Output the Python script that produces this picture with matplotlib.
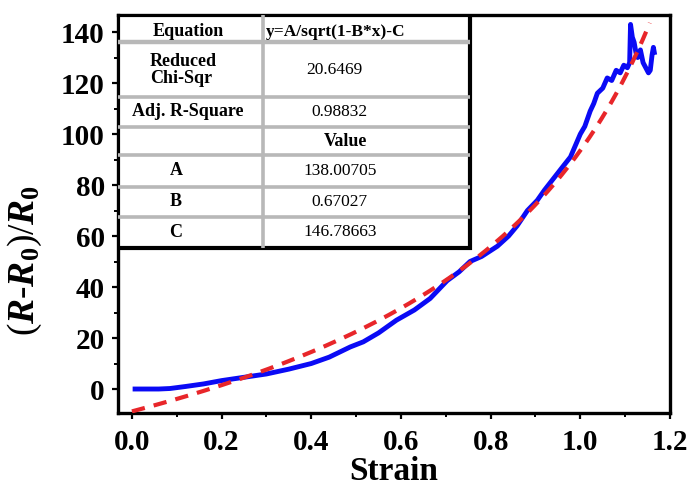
import numpy as np
import matplotlib
matplotlib.use("Agg")
import matplotlib.pyplot as plt
from matplotlib.ticker import MultipleLocator

plt.rcParams['font.family'] = 'Liberation Serif'
plt.rcParams['mathtext.fontset'] = 'custom'
plt.rcParams['mathtext.rm'] = 'Liberation Serif:bold'
plt.rcParams['mathtext.it'] = 'Liberation Serif:bold:italic'
plt.rcParams['mathtext.bf'] = 'Liberation Serif:bold'

# Measured response (strain vs relative resistance change)
strain = [0.007, 0.03, 0.06, 0.085, 0.12, 0.16, 0.20, 0.25, 0.30, 0.35, 0.40,
          0.44, 0.487, 0.516, 0.55, 0.59, 0.63, 0.665, 0.703, 0.73, 0.754,
          0.78, 0.815, 0.84, 0.859, 0.882, 0.904, 0.92, 0.94, 0.96, 0.978,
          1.0, 1.01, 1.022, 1.03, 1.038, 1.05, 1.06, 1.07, 1.08, 1.089,
          1.097, 1.105, 1.110, 1.112, 1.116, 1.120, 1.124, 1.128, 1.134,
          1.140, 1.146, 1.152, 1.156, 1.160, 1.163, 1.165]
response = [0, 0, 0, 0.2, 1.0, 2.0, 3.3, 4.6, 5.9, 7.8, 10.0,
            12.5, 16.5, 18.5, 22, 27, 31, 35.5, 42.5, 46, 50,
            52, 56, 60, 64, 70, 74, 78, 82.5, 87, 91,
            100, 103, 109, 112, 116, 118, 122, 121, 125, 124,
            127, 126, 128, 143, 138, 136, 132, 130, 133,
            128, 126, 124, 125, 131, 134, 132]

# Fit parameters: y = A/sqrt(1-B*x) - C
A = 138.00705
B = 0.67027
C = 146.78663
chi_sqr = "20.6469"
adj_r2 = "0.98832"
fit_x = np.linspace(0.0, 1.155, 300)
fit_y = A / np.sqrt(1 - B * fit_x) - C

x_ticks = [0.0, 0.2, 0.4, 0.6, 0.8, 1.0, 1.2]
y_ticks = [0, 20, 40, 60, 80, 100, 120, 140]

fig = plt.figure(figsize=(6.91, 4.91), dpi=100)
ax = fig.add_axes([0.1708, 0.1589, 0.7988, 0.8106])

ax.plot(strain, response, color='#0a0af5', lw=3.5, solid_joinstyle='round', zorder=3)
ax.plot(fit_x, fit_y, color='#e8262a', lw=3.0, dashes=(3.2, 2.2), zorder=4)

ax.set_xlim(-0.031, 1.2)
ax.set_ylim(-9.4, 146.7)
ax.set_xticks(x_ticks)
ax.set_xticklabels([f"{v:.1f}" for v in x_ticks])
ax.set_yticks(y_ticks)
ax.xaxis.set_minor_locator(MultipleLocator(0.1))
ax.yaxis.set_minor_locator(MultipleLocator(10))
ax.tick_params(which='major', direction='out', length=4.5, width=1.6,
               labelsize=21)
ax.tick_params(axis='x', which='major', pad=7)
ax.tick_params(axis='y', which='major', pad=5)
ax.tick_params(which='minor', direction='out', length=3, width=1.4)
for lbl in ax.get_xticklabels() + ax.get_yticklabels():
    lbl.set_fontweight('bold')
for s in ax.spines.values():
    s.set_linewidth(2.4)

ax.set_xlabel('Strain', fontsize=24, fontweight='bold', labelpad=0)
ax.set_ylabel(r'($R$-$R_0$)/$R_0$', fontsize=27)
ax.yaxis.set_label_coords(-0.135, 0.384)

# Fit summary table
tl, tr, tm = 0.0, 0.638, 0.2627
rows = [1.0, 0.932, 0.794, 0.7186, 0.648, 0.568, 0.4925, 0.4146]
for i, yb in enumerate(rows[1:-1]):
    ax.plot([tl, tr], [yb, yb], transform=ax.transAxes, color='#b8b8b8',
            lw=2.6 if i != 0 else 3.2, zorder=6, solid_capstyle='butt')
ax.plot([tm, tm], [rows[-1], rows[0]], transform=ax.transAxes, color='#b8b8b8',
        lw=2.6, zorder=6, solid_capstyle='butt')
ax.add_patch(plt.Rectangle((tl, rows[-1]), tr - tl, rows[0] - rows[-1],
                           transform=ax.transAxes, facecolor='white',
                           edgecolor='black', lw=3.0, zorder=5))

def cy(i):
    return 0.5 * (rows[i] + rows[i + 1])

lab_x = 0.127
val_x = 0.402
kw_b = dict(transform=ax.transAxes, fontweight='bold', fontsize=13, zorder=7,
            va='center')
kw_n = dict(transform=ax.transAxes, fontsize=12.5, zorder=7, va='center',
            ha='center')
ax.text(lab_x, cy(0) - 0.008, 'Equation', ha='center', **kw_b)
ax.text(tm + 0.005, cy(0) - 0.008, 'y=A/sqrt(1-B*x)-C', ha='left',
        **{**kw_b, 'fontsize': 12.5})
ax.text(0.058, cy(1), 'Reduced\nChi-Sqr', ha='left', linespacing=1.0, **kw_b)
ax.text(val_x - 0.01, cy(1), chi_sqr, **kw_n)
ax.text(lab_x, cy(2), 'Adj. R-Square', ha='center', **kw_b)
ax.text(val_x, cy(2), adj_r2, **kw_n)
ax.text(val_x + 0.01, cy(3), 'Value', ha='center', **kw_b)
for i, (name, val) in enumerate([('A', f"{A:.5f}"), ('B', f"{B:.5f}"),
                                 ('C', f"{C:.5f}")]):
    ax.text(0.105, cy(4 + i), name, ha='center', **kw_b)
    ax.text(val_x, cy(4 + i), val, **kw_n)

fig.savefig('out.png', dpi=100)
